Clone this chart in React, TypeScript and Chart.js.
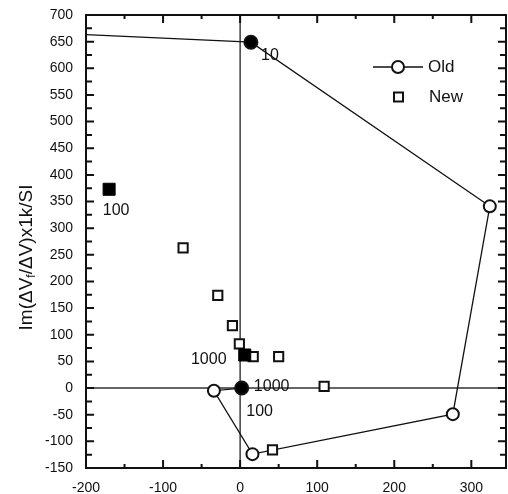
import React, { useEffect, useRef } from "react";
import { Chart, registerables } from "chart.js";

Chart.register(...registerables);

// ---- data ----
const oldX = [-200, 14, 324, 276, 16, -34, 2];
const oldY = [663, 649, 341, -49, -124, -5, 0];
const oldFilled = [false, true, false, false, false, false, true];
const oldMarker = [false, true, true, true, true, true, true];

const newX = [-74, -29, -10, -1, 17, 50, 109, 42];
const newY = [263, 174, 117, 83, 59, 59, 3, -116];

const newFilledX = [-170, 6];
const newFilledY = [373, 62];

const labelTexts = ["10", "100", "1000", "1000", "100"];
const labelX = [14, -170, 6, 2, 2];
const labelY = [649, 373, 62, 0, 0];

const seriesNames = ["Old", "New"];
const yTitleParts = ["Im(\u0394V", "f", "/\u0394V)x1k/SI"];

const xRange = [-200, 345];
const yRange = [-150, 700];
const xTicks = [-200, -100, 0, 100, 200, 300];
const yTicks = [
  -150, -100, -50, 0, 50, 100, 150, 200, 250, 300, 350, 400, 450, 500, 550,
  600, 650, 700,
];

// ---- styling (not data) ----
const W = 508;
const H = 494;
const FONT = "'Liberation Sans', Arial, Helvetica, sans-serif";
const labelOffsets = [
  [19, 13],
  [7, 21],
  [-36, 5],
  [30, -1],
  [18, 24],
];

function midpoints(arr: number[]) {
  const out: number[] = [];
  for (let i = 0; i < arr.length - 1; i++) out.push((arr[i] + arr[i + 1]) / 2);
  return out;
}

const decorPlugin = {
  id: "decor",
  beforeDatasetsDraw(chart: any) {
    const { ctx, chartArea: a, scales } = chart;
    const x0 = scales.x.getPixelForValue(0);
    const y0 = scales.y.getPixelForValue(0);
    ctx.save();
    ctx.strokeStyle = "#333";
    ctx.lineWidth = 1.4;
    ctx.beginPath();
    ctx.moveTo(x0, a.top);
    ctx.lineTo(x0, a.bottom);
    ctx.moveTo(a.left, y0);
    ctx.lineTo(a.right, y0);
    ctx.stroke();
    ctx.restore();
  },
  afterDatasetsDraw(chart: any) {
    const { ctx, chartArea: a, scales } = chart;
    const sx = scales.x;
    const sy = scales.y;
    ctx.save();
    // frame
    ctx.strokeStyle = "#111";
    ctx.lineWidth = 2;
    ctx.strokeRect(a.left, a.top, a.right - a.left, a.bottom - a.top);
    // ticks
    ctx.lineWidth = 2;
    ctx.beginPath();
    const drawX = (vals: number[], len: number) => {
      vals.forEach((v) => {
        if (v < xRange[0] || v > xRange[1]) return;
        const px = sx.getPixelForValue(v);
        ctx.moveTo(px, a.bottom);
        ctx.lineTo(px, a.bottom - len);
        ctx.moveTo(px, a.top);
        ctx.lineTo(px, a.top + len);
      });
    };
    const drawY = (vals: number[], len: number) => {
      vals.forEach((v) => {
        if (v < yRange[0] || v > yRange[1]) return;
        const py = sy.getPixelForValue(v);
        ctx.moveTo(a.left, py);
        ctx.lineTo(a.left + len, py);
        ctx.moveTo(a.right, py);
        ctx.lineTo(a.right - len, py);
      });
    };
    drawX(xTicks, 8);
    drawX(midpoints(xTicks), 4);
    drawY(yTicks, 8);
    drawY(midpoints(yTicks), 6);
    ctx.stroke();

    // point labels
    ctx.fillStyle = "#111";
    ctx.font = `16px ${FONT}`;
    ctx.textAlign = "center";
    ctx.textBaseline = "middle";
    labelTexts.forEach((t, i) => {
      const px = sx.getPixelForValue(labelX[i]) + labelOffsets[i][0];
      const py = sy.getPixelForValue(labelY[i]) + labelOffsets[i][1];
      ctx.fillText(t, px, py);
    });

    // legend
    const ly1 = a.top + 52;
    const ly2 = a.top + 82;
    ctx.strokeStyle = "#111";
    ctx.lineWidth = 1.3;
    ctx.beginPath();
    ctx.moveTo(a.right - 133, ly1);
    ctx.lineTo(a.right - 83, ly1);
    ctx.stroke();
    ctx.lineWidth = 2;
    ctx.fillStyle = "#fff";
    ctx.beginPath();
    ctx.arc(a.right - 108, ly1, 6, 0, Math.PI * 2);
    ctx.fill();
    ctx.stroke();
    ctx.beginPath();
    ctx.rect(a.right - 112, ly2 - 4.5, 9, 9);
    ctx.fill();
    ctx.stroke();
    ctx.fillStyle = "#111";
    ctx.font = `17px ${FONT}`;
    ctx.textAlign = "left";
    ctx.fillText(seriesNames[0], a.right - 78, ly1);
    ctx.fillText(seriesNames[1], a.right - 77, ly2);

    // y title with subscript
    const big = `19px ${FONT}`;
    const small = `12px ${FONT}`;
    ctx.font = big;
    const w0 = ctx.measureText(yTitleParts[0]).width;
    const w2 = ctx.measureText(yTitleParts[2]).width;
    ctx.font = small;
    const w1 = ctx.measureText(yTitleParts[1]).width;
    const total = w0 + w1 + w2;
    ctx.translate(a.left - 59, (a.top + a.bottom) / 2 + 16);
    ctx.rotate(-Math.PI / 2);
    ctx.textAlign = "left";
    ctx.textBaseline = "middle";
    let cx = -total / 2;
    ctx.font = big;
    ctx.fillText(yTitleParts[0], cx, 0);
    cx += w0;
    ctx.font = small;
    ctx.fillText(yTitleParts[1], cx, 5);
    cx += w1;
    ctx.font = big;
    ctx.fillText(yTitleParts[2], cx, 0);
    ctx.restore();
  },
};

const zeroPad = (s: any) => {
  s.paddingLeft = 0;
  s.paddingRight = 0;
  s.paddingTop = 0;
  s.paddingBottom = 0;
};

export default function App() {
  const ref = useRef<HTMLCanvasElement | null>(null);
  useEffect(() => {
    if (!ref.current) return;
    const chart = new Chart(ref.current, {
      type: "scatter",
      data: {
        datasets: [
          {
            label: seriesNames[0],
            data: oldX.map((x, i) => ({ x, y: oldY[i] })),
            showLine: true,
            borderColor: "#111",
            borderWidth: 1.3,
            pointStyle: "circle",
            pointRadius: oldMarker.map((m, i) => (m ? (oldFilled[i] ? 6.5 : 6) : 0)),
            pointBackgroundColor: oldFilled.map((f) => (f ? "#000" : "#fff")),
            pointBorderColor: "#111",
            pointBorderWidth: 2,
            order: 1,
          } as any,
          {
            label: seriesNames[1],
            data: newX.map((x, i) => ({ x, y: newY[i] })),
            showLine: false,
            pointStyle: "rect",
            pointRadius: 6.5,
            pointBackgroundColor: "#fff",
            pointBorderColor: "#111",
            pointBorderWidth: 2,
            order: 0,
          } as any,
          {
            label: seriesNames[1] + " (labelled)",
            data: newFilledX.map((x, i) => ({ x, y: newFilledY[i] })),
            showLine: false,
            pointStyle: "rect",
            pointRadius: 8.5,
            pointBackgroundColor: "#000",
            pointBorderColor: "#000",
            pointBorderWidth: 1,
            order: -1,
          } as any,
        ],
      },
      options: {
        animation: false,
        responsive: false,
        layout: { autoPadding: false, padding: { top: 15, right: 2, left: 0, bottom: 0 } },
        plugins: { legend: { display: false }, tooltip: { enabled: false } },
        scales: {
          x: {
            type: "linear",
            min: xRange[0],
            max: xRange[1],
            grid: { display: false, drawTicks: false, tickLength: 0 },
            border: { display: false },
            afterBuildTicks: (s: any) => {
              s.ticks = xTicks.map((v) => ({ value: v }));
            },
            afterFit: (s: any) => {
              s.height = 26;
              zeroPad(s);
            },
            ticks: {
              padding: 12,
              color: "#111",
              font: { family: FONT, size: 14 },
              maxRotation: 0,
            },
          },
          y: {
            type: "linear",
            min: yRange[0],
            max: yRange[1],
            grid: { display: false, drawTicks: false, tickLength: 0 },
            border: { display: false },
            afterBuildTicks: (s: any) => {
              s.ticks = yTicks.map((v) => ({ value: v }));
            },
            afterFit: (s: any) => {
              s.width = 86;
              zeroPad(s);
            },
            ticks: {
              padding: 13,
              color: "#111",
              font: { family: FONT, size: 14 },
            },
          },
        },
      },
      plugins: [decorPlugin],
    });
    return () => chart.destroy();
  }, []);
  return (
    <div style={{ position: "fixed", left: 0, top: 0, width: W, height: H }}>
      <canvas ref={ref} width={W} height={H} style={{ width: W, height: H, display: "block" }} />
    </div>
  );
}
